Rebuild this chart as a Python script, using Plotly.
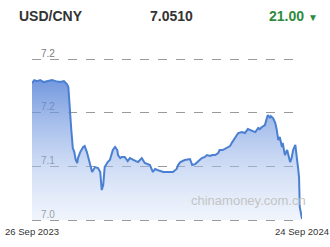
import pandas as pd
import plotly.graph_objects as go

# ---- data ----
start_date = "2023-09-26"
end_date = "2024-09-24"
day_offsets = [0, 3, 7, 11, 16, 22, 27, 32, 38, 43, 47, 49, 50, 51, 53, 55, 57, 59, 61, 62,
               65, 69, 71, 74, 78, 81, 85, 89, 92, 94, 96, 98, 102, 105, 109, 112, 115, 116, 119, 121,
               125, 129, 132, 136, 140, 143, 148, 152, 159, 163, 166, 169, 173, 177, 183, 190, 195, 197, 200, 206,
               213, 216, 220, 222, 226, 229, 233, 236, 240, 243, 247, 251, 253, 257, 260, 264, 267, 270, 274, 278,
               283, 287, 291, 294, 298, 301, 305, 307, 310, 314, 317, 318, 321, 322, 325, 328, 330, 332, 334, 337,
               338, 341, 344, 348, 350, 352, 355, 357, 359, 360, 361, 364]
rates = [7.1776, 7.1803, 7.1794, 7.1803, 7.1785, 7.1794, 7.1803, 7.1794, 7.1785, 7.1794, 7.1766, 7.1738, 7.1617, 7.1496, 7.1338, 7.1170, 7.1133, 7.1059, 7.1031, 7.1077,
         7.1133, 7.1180, 7.1189, 7.1133, 7.1012, 7.0947, 7.0993, 7.0984, 7.0947, 7.0779, 7.0826, 7.0993, 7.1040, 7.1059, 7.1152, 7.1180, 7.1152, 7.1105, 7.1077, 7.1087,
         7.1087, 7.1049, 7.1077, 7.1059, 7.1049, 7.1040, 7.1077, 7.1031, 7.1012, 7.0947, 7.0975, 7.0966, 7.0956, 7.0947, 7.0947, 7.0947, 7.0975, 7.1012, 7.1040, 7.1059,
         7.1068, 7.1012, 7.1021, 7.1031, 7.1059, 7.1077, 7.1087, 7.1105, 7.1096, 7.1105, 7.1105, 7.1124, 7.1152, 7.1152, 7.1161, 7.1180, 7.1189, 7.1226, 7.1273, 7.1310,
         7.1319, 7.1310, 7.1347, 7.1338, 7.1329, 7.1319, 7.1357, 7.1347, 7.1366, 7.1385, 7.1459, 7.1478, 7.1450, 7.1468, 7.1450, 7.1403, 7.1338, 7.1245, 7.1273, 7.1180,
         7.1217, 7.1105, 7.1152, 7.1040, 7.1077, 7.1152, 7.1199, 7.1105, 7.0966, 7.0900, 7.0621, 7.0510]
y_tickvals = [7.05, 7.10, 7.15, 7.20]
y_ticktext = ["7.0", "7.1", "7.2", "7.2"]
y_base = 7.05
x_ticktext = ["26 Sep 2023", "24 Sep 2024"]
pair_label = "USD/CNY"
last_value = "7.0510"
change_label = "21.00"
watermark = "chinamoney.com.cn"

dates = pd.to_datetime(start_date) + pd.to_timedelta(day_offsets, unit="D")

fig = go.Figure()
# baseline for the area fill (bottom grid value)
fig.add_trace(go.Scatter(
    x=dates, y=[y_base] * len(dates), mode="lines",
    line=dict(width=0, color="rgba(0,0,0,0)"),
    hoverinfo="skip", showlegend=False,
))
fig.add_trace(go.Scatter(
    x=dates, y=rates, mode="lines",
    line=dict(color="#4a7fd2", width=2),
    fill="tonexty",
    fillgradient=dict(type="vertical",
                      colorscale=[[0, "rgba(212,225,247,0.35)"], [1, "rgba(82,128,215,0.8)"]],
                      start=7.05, stop=7.18),
    hoverinfo="skip", showlegend=False,
))

font_family = "Liberation Sans, Arial, sans-serif"
fig.update_layout(
    width=330, height=247,
    margin=dict(l=32, r=28, t=54, b=23, autoexpand=False),
    paper_bgcolor="white", plot_bgcolor="white",
    font=dict(family=font_family),
    xaxis=dict(
        range=[pd.to_datetime(start_date), pd.to_datetime(end_date)],
        tickvals=[pd.to_datetime(start_date), pd.to_datetime(end_date)],
        ticktext=x_ticktext,
        showgrid=False, zeroline=False, showline=False, ticks="",
        tickfont=dict(size=9.5, color="#333333"),
        ticklabelstandoff=0,
        ticklabeloverflow="allow",
        automargin=False,
        fixedrange=True,
    ),
    yaxis=dict(
        range=[7.04627, 7.20466],
        tickvals=y_tickvals, ticktext=y_ticktext,
        ticklabelposition="inside top",
        ticklabeloverflow="allow",
        tickfont=dict(size=10, color="#7a7a7a"),
        showgrid=True, gridcolor="#9a9a9a", griddash="dash", gridwidth=1,
        zeroline=False, showline=False, ticks="",
        layer="below traces",
        ticklabelstandoff=6,
        ticklabelshift=1,
        automargin=False,
        fixedrange=True,
    ),
)

# header and watermark, positioned in pixels then converted to paper coordinates
pl, pr, pt, pb = 32, 302, 54, 224
def to_paper(px, py):
    return (px - pl) / (pr - pl), (pb - py) / (pb - pt)

anns = [
    ("<b>%s</b>" % pair_label, 17, 16, "left", 14, "#333333"),
    ("<b>%s</b>" % last_value, 148, 16, "left", 14, "#333333"),
    ("<b>%s</b> <span style='font-size:10px'>▼</span>" % change_label, 267, 16, "left", 14, "#2e8b3e"),
    (watermark, 248, 200, "center", 13, "#c4c4c4"),
]
for text, px, py, xa, size, color in anns:
    ax, ay = to_paper(px, py)
    fig.add_annotation(text=text, x=ax, y=ay, xref="paper", yref="paper",
                       xanchor=xa, yanchor="middle", showarrow=False,
                       font=dict(size=size, color=color))

fig.write_html("out.html")
